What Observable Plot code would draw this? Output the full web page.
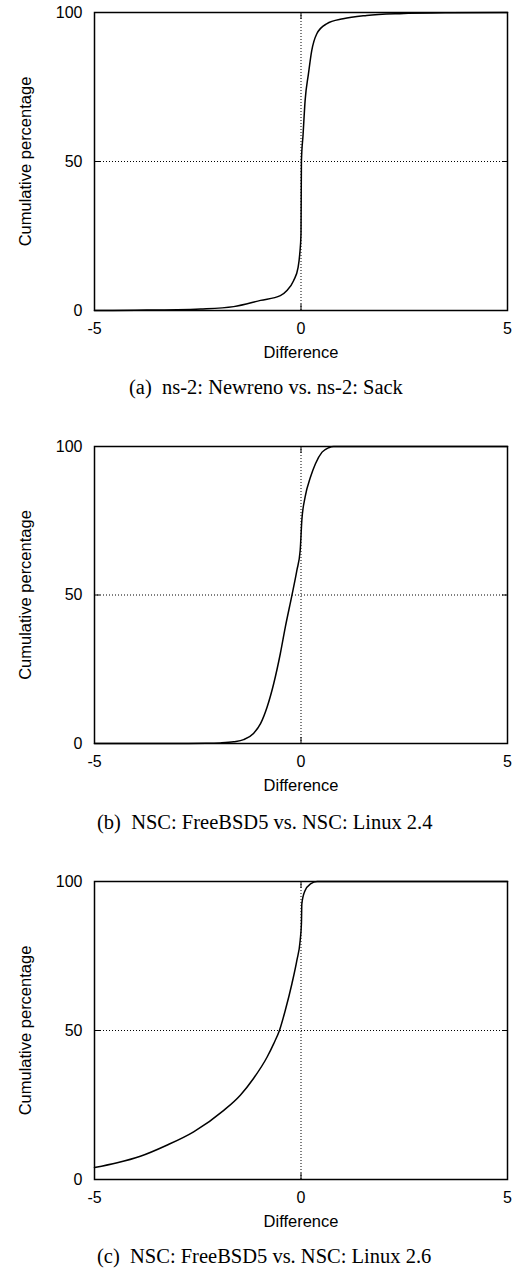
<!DOCTYPE html>
<html>
<head>
<meta charset="utf-8">
<script src="https://cdn.jsdelivr.net/npm/d3@7"></script>
<script src="https://cdn.jsdelivr.net/npm/@observablehq/plot@0.6"></script>
<style>
  html, body { margin: 0; padding: 0; background: #fff; }
  body { width: 518px; height: 1268px; position: relative; overflow: hidden; }
  .fig { position: absolute; left: 0; }
  .cap { position: absolute; font-family: "Liberation Serif", "Times New Roman", serif; font-size: 20.5px; line-height: 20.5px; white-space: pre; color: #000; }
</style>
</head>
<body>
<div id="figA" class="fig" style="top:0px"></div>
<div class="cap" style="top:377px;left:129px">(a)  ns-2: Newreno vs. ns-2: Sack</div>
<div id="figB" class="fig" style="top:434px"></div>
<div class="cap" style="top:812px;left:97px">(b)  NSC: FreeBSD5 vs. NSC: Linux 2.4</div>
<div id="figC" class="fig" style="top:869px"></div>
<div class="cap" style="top:1246px;left:97px">(c)  NSC: FreeBSD5 vs. NSC: Linux 2.6</div>
<script>
// Axis ticks
const xTicks = [-5, 0, 5];
const yTicks = [0, 50, 100];
const xLabel = "Difference";
const yLabel = "Cumulative percentage";

// (a) ns-2: Newreno vs. ns-2: Sack
const diffA = [-5, -4, -3, -2.43, -1.63, -0.98, -0.5, -0.34, -0.18, -0.07, -0.03, 0.0, 0.01, 0.05, 0.1, 0.18, 0.26, 0.38, 0.62, 1.02, 1.59, 2.39, 3.6, 5];
const pctA  = [0, 0.1, 0.25, 0.5, 1.3, 3.4, 5, 6.7, 10, 14.5, 19, 25.7, 50, 59, 70.5, 79.4, 87.2, 92.8, 96.2, 97.9, 99, 99.6, 99.9, 100];

// (b) NSC: FreeBSD5 vs. NSC: Linux 2.4
const diffB = [-5, -3, -2.3, -1.95, -1.63, -1.39, -1.15, -0.98, -0.82, -0.66, -0.5, -0.38, -0.22, -0.1, -0.02, 0.02, 0.1, 0.23, 0.35, 0.51, 0.67, 0.79, 5];
const pctB  = [0, 0, 0.05, 0.2, 0.6, 1.3, 3.4, 6.7, 12.3, 20.2, 30.3, 39.2, 49.9, 58.3, 65, 75.1, 83, 89.7, 94.2, 98.1, 99.6, 100, 100];

// (c) NSC: FreeBSD5 vs. NSC: Linux 2.6
const diffC = [-5, -4.45, -3.89, -3.25, -2.6, -1.87, -1.47, -1.15, -0.82, -0.66, -0.52, -0.38, -0.22, -0.1, -0.02, 0.01, 0.02, 0.1, 0.23, 0.39, 5];
const pctC  = [4.0, 5.6, 7.8, 11.5, 16, 23.2, 28.3, 33.9, 41.1, 45.6, 50.1, 56.8, 65.7, 73.5, 80.2, 85.8, 92.5, 97, 99.2, 100, 100];

function panel(diff, pct, height) {
  const data = diff.map((d, i) => ({x: d, y: pct[i]}));
  return Plot.plot({
    width: 518,
    height,
    marginLeft: 94,
    marginRight: 11,
    marginTop: 12,
    marginBottom: 56,
    style: {fontFamily: "'Liberation Sans', Arial, sans-serif", fontSize: "16px", color: "#000", background: "#fff", overflow: "visible"},
    x: {domain: [-5, 5]},
    y: {domain: [0, 100]},
    marks: [
      Plot.ruleX([0], {stroke: "#000", strokeWidth: 1, strokeDasharray: "1,2"}),
      Plot.ruleY([50], {stroke: "#000", strokeWidth: 1, strokeDasharray: "1,2"}),
      Plot.axisX(xTicks, {anchor: "bottom", tickSize: -6, tickPadding: 18, label: null, tickFormat: d => String(d), fontSize: 16}),
      Plot.axisX(xTicks, {anchor: "top", tickSize: -6, label: null, tickFormat: () => ""}),
      Plot.axisY(yTicks, {anchor: "left", tickSize: -6, tickPadding: 18, label: null, tickFormat: d => String(d), fontSize: 16}),
      Plot.axisY(yTicks, {anchor: "right", tickSize: -6, label: null, tickFormat: () => ""}),
      Plot.line(data, {x: "x", y: "y", curve: "monotone-x", stroke: "#000", strokeWidth: 1.5}),
      Plot.frame({stroke: "#000", strokeWidth: 1.5}),
      Plot.text([xLabel], {text: d => d, frameAnchor: "bottom", textAnchor: "middle", lineAnchor: "middle", dy: 42, fontSize: 16.5}),
      Plot.text([yLabel], {text: d => d, frameAnchor: "left", textAnchor: "middle", lineAnchor: "middle", rotate: -90, dx: -69, fontSize: 16.5})
    ]
  });
}

document.getElementById("figA").append(panel(diffA, pctA, 366));
document.getElementById("figB").append(panel(diffB, pctB, 365));
document.getElementById("figC").append(panel(diffC, pctC, 366));
</script>
</body>
</html>
